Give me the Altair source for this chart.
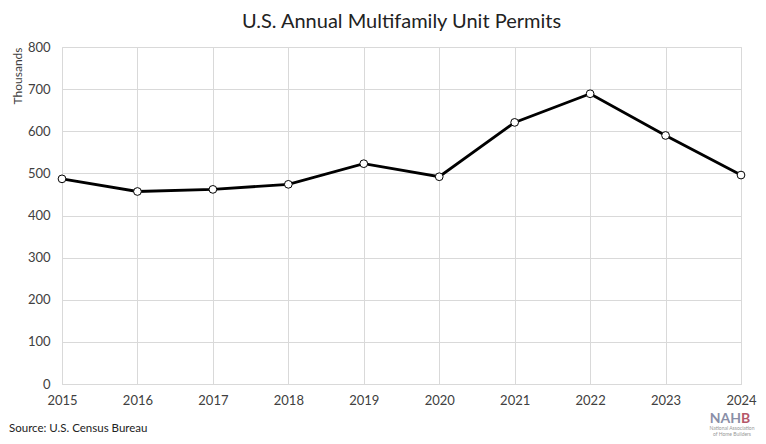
import altair as alt
import pandas as pd

years = [2015, 2016, 2017, 2018, 2019, 2020, 2021, 2022, 2023, 2024]
permits = [487, 457, 462, 474, 523, 492, 621, 689, 590, 496]
y_ticks = [0, 100, 200, 300, 400, 500, 600, 700, 800]

df = pd.DataFrame({"year": years, "permits": permits})

FONT = "Lato"
GRID = "#d9d9d9"
TXT = "#404040"

x = alt.X("year:Q", scale=alt.Scale(domain=[2015, 2024], nice=False, zero=False),
          axis=alt.Axis(values=years, format="d", title=None, grid=True, gridColor=GRID,
                        domainColor=GRID, ticks=False, labelPadding=10, labelFontSize=13,
                        labelColor=TXT, labelFont=FONT, labelFlush=False))
y = alt.Y("permits:Q", scale=alt.Scale(domain=[0, 800], nice=False),
          axis=alt.Axis(values=y_ticks, title="Thousands", titleAnchor="end", titleFontSize=12,
                        titleFontWeight="normal", titleColor=TXT, titleFont=FONT, titlePadding=3,
                        grid=True, gridColor=GRID, domain=False, ticks=False, labelPadding=12,
                        labelFontSize=13, labelColor=TXT, labelFont=FONT))

line = alt.Chart(df).mark_line(color="black", strokeWidth=2.8).encode(x=x, y=y)
pts = alt.Chart(df).mark_point(filled=True, fill="white", stroke="black", strokeWidth=1,
                               size=60, opacity=1).encode(x=x, y=y)

src = alt.Chart(pd.DataFrame({"t": ["Source: U.S. Census Bureau"]})).mark_text(
    align="left", baseline="middle", fontSize=11.5, font=FONT, color="#222"
).encode(x=alt.value(-53), y=alt.value(382), text="t:N")

logo1 = alt.Chart(pd.DataFrame({"t": ["NAH"]})).mark_text(
    align="right", baseline="middle", fontSize=14, fontWeight="bold", font=FONT,
    color="#8a8fa8").encode(x=alt.value(679), y=alt.value(372), text="t:N")
logo2 = alt.Chart(pd.DataFrame({"t": ["B"]})).mark_text(
    align="left", baseline="middle", fontSize=14, fontWeight="bold", font=FONT,
    color="#b5586a").encode(x=alt.value(679), y=alt.value(372), text="t:N")
logo3 = alt.Chart(pd.DataFrame({"t": ["National Association"]})).mark_text(
    align="center", baseline="middle", fontSize=5, font=FONT, color="#999").encode(
    x=alt.value(670), y=alt.value(381), text="t:N")
logo4 = alt.Chart(pd.DataFrame({"t": ["of Home Builders"]})).mark_text(
    align="center", baseline="middle", fontSize=5, font=FONT, color="#999").encode(
    x=alt.value(670), y=alt.value(387), text="t:N")

chart = alt.layer(line, pts, src, logo1, logo2, logo3, logo4).properties(
    width=679, height=337,
    autosize=alt.AutoSizeParams(type="none"),
    padding={"left": 54, "top": 39, "right": 17, "bottom": 52},
    title=alt.TitleParams("U.S. Annual Multifamily Unit Permits", fontSize=20, font=FONT,
                          fontWeight="normal", color="#222", anchor="middle", offset=9),
).configure_view(stroke=None).configure(background="white")

chart.save("out.html", embed_options={"renderer": "svg", "actions": False})
